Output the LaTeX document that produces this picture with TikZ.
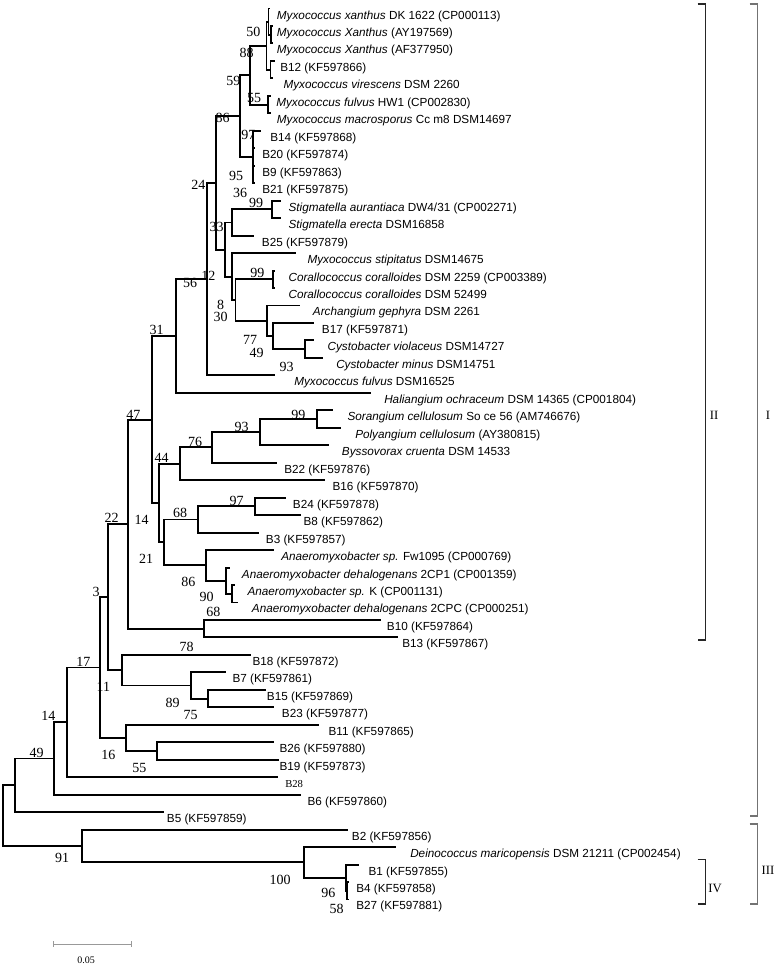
\documentclass[tikz,border=0pt]{standalone}
\usepackage{fontspec}
\setmainfont{Liberation Serif}
\setsansfont{Liberation Sans}
\begin{document}
\begin{tikzpicture}[x=0.75pt,y=-0.75pt,
  br/.style={line width=1.45pt,black,line cap=rect},
  lab/.style={anchor=base west,inner sep=0pt,font=\sffamily\fontsize{8.8}{10}\selectfont},
  labs/.style={anchor=base west,inner sep=0pt,font=\rmfamily\fontsize{8}{9}\selectfont},
  bs/.style={inner sep=0pt,font=\rmfamily\fontsize{10.5}{12}\selectfont},
  brk/.style={line width=1pt,black!85},
  brkg/.style={line width=1pt,black!55},
  rom/.style={inner sep=0pt,font=\rmfamily\fontsize{9.5}{11}\selectfont},
  sbar/.style={line width=0.6pt,black!40}]
\useasboundingbox (0,0) rectangle (777,967);
\newcommand\leaf[4]{%
  \pgfmathsetmacro\ly{8.5+17.47*(#1-1)}%
  \coordinate (l#1) at (#2,\ly);
  \node[lab] (t#1) at (#3,\ly+10.5) {#4};}
% leaves
\leaf{1}{269}{276.7}{\textit{Myxococcus xanthus} DK 1622 (CP000113)}
\leaf{2}{272}{276.7}{\textit{Myxococcus Xanthus} (AY197569)}
\leaf{3}{272}{276.7}{\textit{Myxococcus Xanthus} (AF377950)}
\leaf{4}{274}{280}{B12 (KF597866)}
\leaf{5}{272}{283.3}{\textit{Myxococcus virescens} DSM 2260}
\leaf{6}{270}{276}{\textit{Myxococcus fulvus} HW1 (CP002830)}
\leaf{7}{270}{276.7}{\textit{Myxococcus macrosporus} Cc m8 DSM14697}
\leaf{8}{260}{270}{B14 (KF597868)}
\leaf{9}{254}{262}{B20 (KF597874)}
\leaf{10}{254}{262}{B9 (KF597863)}
\leaf{11}{254}{262}{B21 (KF597875)}
\leaf{12}{280}{288.3}{\textit{Stigmatella aurantiaca} DW4/31 (CP002271)}
\leaf{13}{280}{288.3}{\textit{Stigmatella erecta} DSM16858}
\leaf{14}{252.7}{261.7}{B25 (KF597879)}
\leaf{15}{295}{307.3}{\textit{Myxococcus stipitatus} DSM14675}
\leaf{16}{274}{288.3}{\textit{Corallococcus coralloides} DSM 2259 (CP003389)}
\leaf{17}{274}{288.3}{\textit{Corallococcus coralloides} DSM 52499}
\leaf{18}{299.3}{312.7}{\textit{Archangium gephyra} DSM 2261}
\leaf{19}{313.3}{321.7}{B17 (KF597871)}
\leaf{20}{313.3}{327.3}{\textit{Cystobacter violaceus} DSM14727}
\leaf{21}{321.7}{336}{\textit{Cystobacter minus} DSM14751}
\leaf{22}{274}{294}{\textit{Myxococcus fulvus} DSM16525}
\leaf{23}{370}{384}{\textit{Haliangium ochraceum} DSM 14365 (CP001804)}
\leaf{24}{331.7}{347.3}{\textit{Sorangium cellulosum} So ce 56 (AM746676)}
\leaf{25}{340}{355}{\textit{Polyangium cellulosum} (AY380815)}
\leaf{26}{328.3}{341.7}{\textit{Byssovorax cruenta} DSM 14533}
\leaf{27}{276}{284}{B22 (KF597876)}
\leaf{28}{324}{332.3}{B16 (KF597870)}
\leaf{29}{285}{292.7}{B24 (KF597878)}
\leaf{30}{300}{303.3}{B8 (KF597862)}
\leaf{31}{258.3}{265.7}{B3 (KF597857)}
\leaf{32}{273.3}{281}{\textit{Anaeromyxobacter sp.} Fw1095 (CP000769)}
\leaf{33}{229}{241.7}{\textit{Anaeromyxobacter dehalogenans} 2CP1 (CP001359)}
\leaf{34}{234}{247.3}{\textit{Anaeromyxobacter sp.} K (CP001131)}
\leaf{35}{236.7}{251.7}{\textit{Anaeromyxobacter dehalogenans} 2CPC (CP000251)}
\leaf{36}{380}{386.7}{B10 (KF597864)}
\leaf{37}{396.7}{402}{B13 (KF597867)}
\leaf{38}{250}{252.3}{B18 (KF597872)}
\leaf{39}{225}{232.3}{B7 (KF597861)}
\leaf{40}{265}{266.7}{B15 (KF597869)}
\leaf{41}{273.3}{281.7}{B23 (KF597877)}
\leaf{42}{318.3}{328.3}{B11 (KF597865)}
\leaf{43}{273.3}{279.3}{B26 (KF597880)}
\leaf{44}{278.3}{279.3}{B19 (KF597873)}
\pgfmathsetmacro\ly{8.5+17.47*44}
\coordinate (l45) at (276.7,\ly);
\node[labs] (t45) at (285,\ly+10.5) {B28};
\leaf{46}{300}{307.3}{B6 (KF597860)}
\leaf{47}{163.3}{166.7}{B5 (KF597859)}
\leaf{48}{346.7}{351.7}{B2 (KF597856)}
\leaf{49}{395}{410}{\textit{Deinococcus maricopensis} DSM 21211 (CP002454)}
\leaf{50}{358.3}{368.3}{B1 (KF597855)}
\leaf{51}{348.5}{356}{B4 (KF597858)}
\leaf{52}{348.5}{356}{B27 (KF597881)}
% internal nodes
\coordinate (n50) at (271,34.7);
\coordinate (nX) at (268.5,21.6);
\coordinate (nB12) at (270.5,69.65);
\coordinate (n88) at (266.5,45.6);
\coordinate (n55) at (268.3,104.6);
\coordinate (n59) at (250,75.1);
\coordinate (n95) at (253,157.0);
\coordinate (n86) at (240,116.05);
\coordinate (nStig) at (271.7,209.4);
\coordinate (nSB25) at (231.7,222.5);
\coordinate (nCoral) at (273.3,279.3);
\coordinate (nCyst) at (305,349.2);
\coordinate (n77) at (273.3,336.1);
\coordinate (n30) at (266.7,320.8);
\coordinate (n8) at (235.5,300.05);
\coordinate (n12) at (231.7,276.6);
\coordinate (n33) at (225,249.55);
\coordinate (n24) at (216,182.8);
\coordinate (n56) at (207.3,279.1);
\coordinate (n31) at (176,336.0);
\coordinate (nSor) at (316.7,419.05);
\coordinate (n93) at (260,432.15);
\coordinate (n76) at (211.7,447.4);
\coordinate (n44) at (180,463.8);
\coordinate (n97) at (255,506.4);
\coordinate (n68) at (198.3,519.5);
\coordinate (nK) at (231.7,593.7);
\coordinate (n90) at (226,580.6);
\coordinate (nA86) at (206,565.3);
\coordinate (n21) at (164,542.4);
\coordinate (n14) at (159.3,503.1);
\coordinate (n47) at (151.7,419.55);
\coordinate (nB10) at (204,628.7);
\coordinate (n22) at (128.3,524.1);
\coordinate (nB15) at (208.3,698.6);
\coordinate (n89) at (190.7,685.5);
\coordinate (n78) at (121.7,670.2);
\coordinate (n3) at (108.3,597.15);
\coordinate (nB26) at (157.3,751.0);
\coordinate (n16) at (126,737.9);
\coordinate (n11) at (100,667.5);
\coordinate (n17) at (66.7,722.3);
\coordinate (nL14) at (54,758.5);
\coordinate (n49) at (15,785.3);
\coordinate (n96) at (347.3,890.7);
\coordinate (n58) at (346,877.6);
\coordinate (n100) at (304,862.3);
\coordinate (n91) at (81.7,845.9);
\coordinate (root) at (3.3,815.6);
% branches
\foreach \p/\c in {nX/l1,nX/n50,n50/l2,n50/l3,nB12/l4,nB12/l5,n88/nX,n88/nB12,
  n55/l6,n55/l7,n59/n88,n59/n55,n95/l8,n95/l9,n95/l10,n95/l11,n86/n59,n86/n95,
  nStig/l12,nStig/l13,nSB25/nStig,nSB25/l14,nCoral/l16,nCoral/l17,nCyst/l20,nCyst/l21,
  n77/l19,n77/nCyst,n30/l18,n30/n77,n8/nCoral,n8/n30,n12/l15,n12/n8,n33/nSB25,n33/n12,
  n24/n86,n24/n33,n56/n24,n56/l22,n31/n56,n31/l23,nSor/l24,nSor/l25,n93/nSor,n93/l26,
  n76/n93,n76/l27,n44/n76,n44/l28,n97/l29,n97/l30,n68/n97,n68/l31,nK/l34,nK/l35,
  n90/l33,n90/nK,nA86/l32,nA86/n90,n21/n68,n21/nA86,n14/n44,n14/n21,n47/n31,n47/n14,
  nB10/l36,nB10/l37,n22/n47,n22/nB10,nB15/l40,nB15/l41,n89/l39,n89/nB15,n78/l38,n78/n89,
  n3/n22,n3/n78,nB26/l43,nB26/l44,n16/l42,n16/nB26,n11/n3,n11/n16,n17/n11,n17/l45,
  nL14/n17,nL14/l46,n49/nL14,n49/l47,n96/l51,n96/l52,n58/l50,n58/n96,n100/l49,n100/n58,
  n91/l48,n91/n100,root/n49,root/n91}
  \draw[br] (\p) |- (\c);
% bootstrap values
\foreach \t/\x/\y [count=\k] in {50/253.3/32.3,88/246.5/53.3,59/233.3/81,55/254/98.3,
  86/222.7/118.3,97/248.3/135,95/236/176,24/198.3/185,36/240/193.3,99/256/203.3,
  33/216.7/227.3,99/257.3/273.3,12/208.3/276,56/190/283.3,8/220.5/304.5,30/220.7/316.7,
  77/250/340,49/256.7/353.3,93/286.7/366.7,31/156.7/330,47/133.3/415,99/298.3/415,
  93/241.7/426.7,76/195/441.7,44/161.7/458.3,97/236.7/500.7,68/180/513.3,22/111.7/518.3,
  14/141.7/520,21/146/559.3,86/188.3/581.7,90/206.7/596.7,68/213.3/611.7,3/96/591.7,
  78/186.7/646.7,17/83.3/661.7,11/103.3/687.3,89/172.7/702.7,75/190.7/715,14/48.3/716,
  16/108.3/755,55/139.3/768.3,49/36.7/753.3,91/62/858,100/280/880,96/328.3/893.3,58/336.7/909}
  \node[bs] (bs\k) at (\x,\y) {\t};
% brackets
\coordinate (IIa) at (697.7,4); \coordinate (IIb) at (705.3,4);
\coordinate (IIc) at (705.3,640); \coordinate (IId) at (697.7,640);
\draw[brk] (IIa) -- (IIb) -- (IIc) -- (IId);
\coordinate (Ia) at (749.7,4); \coordinate (Ib) at (757.3,4);
\coordinate (Ic) at (757.3,816); \coordinate (Id) at (749.7,816);
\draw[brkg] (Ia) -- (Ib) -- (Ic) -- (Id);
\coordinate (IIIa) at (749.7,824); \coordinate (IIIb) at (757.3,824);
\coordinate (IIIc) at (757.3,904); \coordinate (IIId) at (749.7,904);
\draw[brkg] (IIIa) -- (IIIb) -- (IIIc) -- (IIId);
\coordinate (IVa) at (697.7,859.3); \coordinate (IVb) at (705.3,859.3);
\coordinate (IVc) at (705.3,904); \coordinate (IVd) at (697.7,904);
\draw[brk] (IVa) -- (IVb) -- (IVc) -- (IVd);
\node[rom] (rII) at (714,415) {II};
\node[rom] (rI) at (768,415) {I};
\node[rom] (rIII) at (768,870) {III};
\node[rom] (rIV) at (715,888) {IV};
% scale bar
\coordinate (sb1) at (53,944); \coordinate (sb2) at (131,944);
\draw[sbar] (sb1) -- (sb2);
\draw[sbar] ([yshift=3*0.75pt]sb1) -- ([yshift=-3*0.75pt]sb1);
\draw[sbar] ([yshift=3*0.75pt]sb2) -- ([yshift=-3*0.75pt]sb2);
\node[inner sep=0pt,font=\rmfamily\fontsize{7.5}{9}\selectfont] (sbl) at (86,960) {0.05};
\end{tikzpicture}
\end{document}
